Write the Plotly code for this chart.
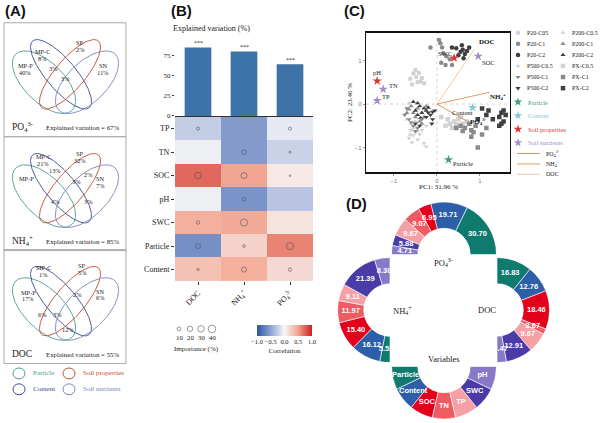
import numpy as np
import plotly.graph_objects as go

W, H = 600, 423
SERIF = "Liberation Serif"
SANS = "Liberation Sans"

# ---------------- DATA ----------------
# Panel A: Venn partitions (variance partitioning)
venn_targets = ["PO<sub>4</sub><sup>3-</sup>", "NH<sub>4</sub><sup>+</sup>", "DOC"]
venn_explained = [67, 85, 55]
venn_sets = ["MP-P", "MP-C", "SP", "SN"]
po4_parts = ["8%", "2%", "40%", "11%", "3%", "3%"]
nh4_parts = ["21%", "32%", "13%", "2%", "7%", "3%", "4%", "3%"]
doc_parts = ["1%", "5%", "17%", "2%", "6%", "6%", "3%", "12%"]
venn_legend = ["Particle", "Soil properties", "Content", "Soil nutrients"]

# Panel B
targets = ["DOC", "NH<sub>4</sub><sup>+</sup>", "PO<sub>4</sub><sup>3-</sup>"]
explained_var = [85, 80, 64]
heat_rows = ["TP", "TN", "SOC", "pH", "SWC", "Particle", "Content"]
corr = [
    [-0.25, -0.55, -0.08],
    [-0.05, -0.55, -0.22],
    [0.72, 0.48, 0.08],
    [-0.05, -0.60, -0.30],
    [0.42, 0.45, 0.12],
    [-0.62, 0.22, 0.62],
    [0.32, 0.42, 0.18],
]
importance = [
    [7, 0, 7],
    [0, 15, 3],
    [30, 25, 2],
    [0, 10, 0],
    [8, 35, 0],
    [17, 5, 35],
    [4, 18, 8],
]
importance_legend = [10, 20, 30, 40]

# Panel C: PCA scores
p20_c05_x = [-0.62, -0.55, -0.48, -0.42, -0.35, -0.58, -0.45, -0.30, -0.50, -0.38]
p20_c05_y = [0.58, 0.70, 0.62, 0.72, 0.60, 0.45, 0.50, 0.48, 0.78, 0.52]
p20_c1_x = [0.05, 0.08, -0.15, 0.12, 0.22, 0.10, 0.20, 0.35, 0.30, 0.15]
p20_c1_y = [1.47, 1.40, 1.30, 1.30, 1.10, 0.95, 0.90, 0.90, 1.03, 1.17]
p20_c2_x = [0.45, 0.55, 0.60, 0.65, 0.70, 0.50, 0.62, 0.35, 0.75, 0.58]
p20_c2_y = [1.28, 1.20, 1.25, 1.15, 1.22, 1.12, 1.05, 1.30, 1.30, 1.35]
p200_c05_x = [-0.65, -0.60, -0.55, -0.70, -0.50, -0.45, -0.62]
p200_c05_y = [0.02, -0.45, -0.55, -0.35, -0.40, -0.62, -0.70]
p200_c1_x = [-0.60, -0.55, -0.65, -0.50, -0.40, -0.30, -0.45, -0.70, -0.35, -0.25]
p200_c1_y = [-0.05, -0.20, -0.12, -0.30, -0.40, -0.30, -0.10, -0.20, -0.45, -0.05]
p200_c2_x = [-0.45, -0.40, -0.30, -0.50, -0.35, -0.25, -0.45, -0.20, -0.55, -0.38]
p200_c2_y = [0.02, -0.05, -0.10, -0.15, -0.20, -0.15, -0.25, -0.08, 0.05, -0.32]
p500_c05_x = [-0.60, -0.55, -0.50, -0.45, -0.40, -0.35, -0.65, -0.30, -0.25, -0.58, -0.25]
p500_c05_y = [-0.60, -0.72, -0.65, -0.82, -0.70, -0.60, -0.78, -0.90, -0.50, -0.88, -0.98]
p500_c1_x = [-0.70, -0.65, -0.60, -0.55, -0.45, -0.35, -0.75, -0.50]
p500_c1_y = [-0.10, -0.35, -0.42, -0.50, -0.55, -0.35, -0.25, -0.62]
p500_c2_x = [-0.20, -0.15, -0.10, -0.25, -0.10, -0.50, -0.40, -0.12, -0.05]
p500_c2_y = [-0.20, -0.25, -0.18, -0.30, -0.35, -0.45, -0.50, -0.45, -0.15]
px_c05_x = [0.10, 0.25, 0.30, 0.40, 0.50, 0.45, 0.55, 0.35, 0.20, 0.60, 0.70]
px_c05_y = [-0.30, -0.35, -0.45, -0.40, -0.35, -0.47, -0.30, -0.55, -0.50, -0.45, -0.40]
px_c1_x = [0.55, 0.65, 0.60, 0.85, 0.80, 1.05, 1.15, 0.95, 0.90, 0.75, 0.45, 0.80]
px_c1_y = [-0.50, -0.55, -0.62, -0.65, -0.75, -0.70, -0.55, -1.00, -0.50, -0.45, -0.55, -0.60]
px_c2_x = [1.05, 1.15, 1.30, 1.45, 1.50, 1.55, 1.50, 1.55, 1.60, 1.20, 0.95, 1.45]
px_c2_y = [-0.10, -0.25, -0.35, -0.30, -0.45, -0.40, -0.20, -0.15, -0.25, -0.15, -0.35, -0.50]

# PCA loadings
var_star_names = ["pH", "TN", "TP", "SWC", "SOC", "Content", "Particle"]
var_star_x = [-1.39, -1.25, -1.39, 0.40, 0.96, 0.83, 0.27]
var_star_y = [0.53, 0.34, 0.08, 1.06, 1.10, -0.08, -1.28]
var_star_group = ["prop", "nut", "nut", "prop", "nut", "content", "particle"]
resp_names = ["DOC", "NH<sub>4</sub><sup>+</sup>", "PO<sub>4</sub><sup>3-</sup>"]
resp_x = [0.88, 1.22, 0.69]
resp_y = [1.27, 0.27, -0.39]

# Panel D: relative importance (%)
var_names = ["Particle", "Content", "SOC", "TN", "TP", "SWC", "pH"]
po4_imp = [30.70, 19.71, 6.95, 9.07, 9.67, 5.88, 4.71]
doc_imp = [16.83, 12.76, 18.46, 2.67, 9.67, 12.91, 4.47]
nh4_imp = [5.52, 16.12, 15.40, 11.97, 9.11, 21.39, 8.30]
var_ring = [1, 1, 1, 1, 1, 1, 1]

# ---------------- STYLE ----------------
var_colors = ["#0e7b6e", "#2d5ea9", "#e3001b", "#ee5b63", "#f5a0a5", "#4a3ba8", "#8779c7"]
c_particle, c_content, c_prop, c_nut = "#4f9a8c", "#3c4a8e", "#c44a32", "#7a86b8"
LIGHT, MED, DARK = "#d2d2d2", "#8a8a8a", "#3f3f3f"
star_colors = {"prop": "#dd3333", "nut": "#a68bc9", "content": "#86c5dc", "particle": "#3b9f7f"}


def dx(a, b):
    return [a / W, b / W]


def dy(top, bottom):
    return [1 - bottom / H, 1 - top / H]


annotations = []
shapes = []


def ann(text, x, y, size=7, color="#222", family=SERIF, xanchor="center", angle=0, ref=("x", "y")):
    annotations.append(dict(text=text, x=x, y=y, xref=ref[0], yref=ref[1], showarrow=False,
                            font=dict(size=size, color=color, family=family),
                            xanchor=xanchor, yanchor="middle", textangle=angle))


fig = go.Figure()

# ---------------- PANEL A ----------------
box_tops = [23, 138, 252]
box_left, box_w, box_h = 4, 122, 115
ell_params = [  # local cx, cy, a, b, angle ; colour
    (40, 60, 40, 20, 45, c_particle),
    (57, 52, 44, 15, 50, c_content),
    (66, 52, 44, 15, -50, c_prop),
    (83, 60, 40, 20, -45, c_nut),
]
t = np.linspace(0, 2 * np.pi, 160)
for bi, top in enumerate(box_tops):
    shapes.append(dict(type="rect", xref="x", yref="y", x0=box_left, x1=box_left + box_w,
                       y0=top, y1=top + box_h, line=dict(color="#aaaaaa", width=1)))
    for (cx, cy, a, b, ang, col) in ell_params:
        c, s = np.cos(np.radians(ang)), np.sin(np.radians(ang))
        ex = box_left + cx + a * np.cos(t) * c - b * np.sin(t) * s
        ey = top + cy + a * np.cos(t) * s + b * np.sin(t) * c
        fig.add_trace(go.Scatter(x=ex, y=ey, mode="lines", line=dict(color=col, width=0.9),
                                 xaxis="x", yaxis="y", hoverinfo="skip", showlegend=False))
    ann(venn_targets[bi], 10, top + 105, size=9.5, xanchor="left")
    ann("Explained variation = %d%%" % venn_explained[bi], 82, top + 106, size=6.8)

# set-name positions per box (layout)
set_pos = [
    [(25, 66), (42, 52), (80, 43), (103, 66)],
    [(26, 180), (43, 158), (80, 155), (100, 180)],
    [(28, 295), (43, 270), (82, 268), (100, 294)],
]
part_pos = [
    [(42, 59), (80, 50), (25, 73), (103, 73), (53, 69), (65, 79)],
    [(43, 165), (80, 162), (55, 172), (88, 176), (100, 187), (76, 183), (55, 203), (88, 203)],
    [(43, 277), (82, 275), (28, 301), (77, 297), (100, 300), (42, 317), (57, 317), (68, 333)],
]
all_parts = [po4_parts, nh4_parts, doc_parts]
for bi in range(3):
    for name, (x, y) in zip(venn_sets, set_pos[bi]):
        ann(name, x, y, size=6.3)
    for lab, (x, y) in zip(all_parts[bi], part_pos[bi]):
        ann(lab, x, y, size=6.3)

leg_cols = [c_particle, c_prop, c_content, c_nut]
leg_xy = [(19, 377), (69, 377), (19, 393), (69, 393)]
for lab, col, (x, y) in zip(venn_legend, leg_cols, leg_xy):
    shapes.append(dict(type="circle", xref="x", yref="y", x0=x - 6, x1=x + 6, y0=y - 5.5, y1=y + 5.5,
                       line=dict(color=col, width=1)))
    ann(lab, x + 12, y, size=7, color=col, xanchor="left")

# ---------------- PANEL B ----------------
xi = list(range(len(targets)))
fig.add_trace(go.Bar(x=xi, y=explained_var, width=0.58, marker=dict(color="#3d73a6", line=dict(width=0)),
                     xaxis="x2", yaxis="y2", showlegend=False))
for i, v in zip(xi, explained_var):
    annotations.append(dict(text="***", x=i, y=v, xref="x2", yref="y2", yshift=4, showarrow=False,
                            font=dict(size=6, family=SERIF, color="#222")))

ri = list(range(len(heat_rows)))
cscale = [[0, "#2a56a4"], [0.25, "#8ea2d2"], [0.5, "#f7f7f7"], [0.75, "#f2a28e"], [1, "#cc1f1f"]]
fig.add_trace(go.Heatmap(z=corr, x=xi, y=ri, colorscale=cscale, zmin=-1, zmax=1, xaxis="x3", yaxis="y3",
                         colorbar=dict(orientation="h", x=284.5 / W, xanchor="center", y=1 - 328 / H,
                                       yanchor="top", len=55 / W, lenmode="fraction", thickness=11,
                                       thicknessmode="pixels", outlinewidth=0, ticks="", tickangle=0,
                                       tickvals=[-1, -0.5, 0, 0.5, 1],
                                       ticktext=["−1.0", "−0.5", "0.0", "0.5", "1.0"],
                                       tickfont=dict(size=6.5, family=SERIF, color="#222"),
                                       title=dict(text="Correlation", side="bottom",
                                                  font=dict(size=7, family=SERIF, color="#222")),
                                       xpad=0, ypad=0)))


def imp_size(v):
    return 1.2 * np.sqrt(v)


cx_, cy_, cs_ = [], [], []
for r in ri:
    for c in xi:
        if importance[r][c] > 0:
            cx_.append(c)
            cy_.append(r)
            cs_.append(imp_size(importance[r][c]))
fig.add_trace(go.Scatter(x=cx_, y=cy_, mode="markers", xaxis="x3", yaxis="y3", showlegend=False,
                         marker=dict(symbol="circle-open", size=cs_, color="#4a4a5a", line=dict(width=0.8))))

# importance size legend
leg_imp_x = [179 + 11 * i for i in range(len(importance_legend))]
fig.add_trace(go.Scatter(x=leg_imp_x, y=[332] * 4, mode="markers", xaxis="x", yaxis="y", showlegend=False,
                         marker=dict(symbol="circle-open", size=[imp_size(v) for v in importance_legend],
                                     color="#4a4a5a", line=dict(width=0.8))))
for x, v in zip(leg_imp_x, importance_legend):
    ann(str(v), x, 340.5, size=6.8)
ann("Importance (%)", 196, 352, size=7)
ann("Explained variation (%)", 211, 29, size=8)

# ---------------- PANEL C ----------------
groups = [
    (p20_c05_x, p20_c05_y, "circle", LIGHT), (p20_c1_x, p20_c1_y, "circle", MED),
    (p20_c2_x, p20_c2_y, "circle", DARK), (p200_c05_x, p200_c05_y, "triangle-up", LIGHT),
    (p200_c1_x, p200_c1_y, "triangle-up", MED), (p200_c2_x, p200_c2_y, "triangle-up", DARK),
    (p500_c05_x, p500_c05_y, "triangle-down", LIGHT), (p500_c1_x, p500_c1_y, "triangle-down", MED),
    (p500_c2_x, p500_c2_y, "triangle-down", DARK), (px_c05_x, px_c05_y, "square", LIGHT),
    (px_c1_x, px_c1_y, "square", MED), (px_c2_x, px_c2_y, "square", DARK),
]
for gx, gy, sym, col in groups:
    fig.add_trace(go.Scatter(x=gx, y=gy, mode="markers", xaxis="x4", yaxis="y4", showlegend=False,
                             marker=dict(symbol=sym, size=4.5, color=col, line=dict(width=0))))

arrow_cols = ["#efcaa6", "#e09c62", "#d7985f"]
for nm, ex, ey, col in zip(resp_names, resp_x, resp_y, arrow_cols):
    fig.add_trace(go.Scatter(x=[0, ex], y=[0, ey], mode="lines", line=dict(color=col, width=1),
                             xaxis="x4", yaxis="y4", showlegend=False))
annotations.append(dict(text="<b>DOC</b>", x=resp_x[0], y=resp_y[0], xref="x4", yref="y4", xshift=12, yshift=7,
                        showarrow=False, font=dict(size=7, family=SERIF, color="#111")))
annotations.append(dict(text="<b>NH<sub>4</sub><sup>+</sup></b>", x=resp_x[1], y=resp_y[1], xref="x4", yref="y4",
                        xshift=9, yshift=-4, showarrow=False, font=dict(size=7, family=SERIF, color="#111")))
annotations.append(dict(text="<b>PO<sub>4</sub><sup>3-</sup></b>", x=resp_x[2], y=resp_y[2], xref="x4", yref="y4",
                        xshift=12, yshift=0, showarrow=False, font=dict(size=7, family=SERIF, color="#111")))

fig.add_trace(go.Scatter(x=var_star_x, y=var_star_y, mode="markers", xaxis="x4", yaxis="y4", showlegend=False,
                         marker=dict(symbol="star", size=7, color=[star_colors[g] for g in var_star_group],
                                     line=dict(width=0))))
star_shift = {"pH": (0, 8), "TN": (10, 4), "TP": (9, 4), "SWC": (-9, 4), "SOC": (10, -6),
              "Content": (-10, -5), "Particle": (14, -4)}
for nm, sx, sy in zip(var_star_names, var_star_x, var_star_y):
    xs, ys = star_shift[nm]
    annotations.append(dict(text=nm, x=sx, y=sy, xref="x4", yref="y4", xshift=xs, yshift=ys, showarrow=False,
                            font=dict(size=6.5, family=SERIF, color="#222")))

shapes.append(dict(type="line", xref="x4", yref="y4 domain", x0=0, x1=0, y0=0, y1=1,
                   line=dict(color="#c8c8c8", width=0.8, dash="dot"), layer="below"))
shapes.append(dict(type="line", xref="x4 domain", yref="y4", x0=0, x1=1, y0=0, y1=0,
                   line=dict(color="#c8c8c8", width=0.8, dash="dot"), layer="below"))
ann("PC1: 31.96 %", 438, 189, size=7)
ann("PC2: 23.46 %", 350, 104, size=7, angle=-90)

# PCA legend (manual, compact)
leg_c1 = ["P20-C05", "P20-C1", "P20-C2", "P500-C0.5", "P500-C1", "P500-C2"]
leg_c2 = ["P200-C0.5", "P200-C1", "P200-C2", "PX-C0.5", "PX-C1", "PX-C2"]
sym_c1 = ["circle"] * 3 + ["triangle-down"] * 3
sym_c2 = ["triangle-up"] * 3 + ["square"] * 3
cols6 = [LIGHT, MED, DARK] * 2
rows_y = [33 + 11.2 * i for i in range(6)]
fig.add_trace(go.Scatter(x=[518] * 6 + [563] * 6, y=rows_y * 2, mode="markers", xaxis="x", yaxis="y",
                         showlegend=False, marker=dict(symbol=sym_c1 + sym_c2, size=4.5, color=cols6 * 2)))
for lab, y in zip(leg_c1, rows_y):
    ann(lab, 525, y, size=6, xanchor="left")
for lab, y in zip(leg_c2, rows_y):
    ann(lab, 570, y, size=6, xanchor="left")
star_leg = ["Particle", "Content", "Soil properties", "Soil nutrients"]
star_leg_cols = [star_colors["particle"], star_colors["content"], star_colors["prop"], star_colors["nut"]]
star_leg_y = [103 + 13.7 * i for i in range(4)]
fig.add_trace(go.Scatter(x=[518] * 4, y=star_leg_y, mode="markers", xaxis="x", yaxis="y", showlegend=False,
                         marker=dict(symbol="star", size=6.5, color=star_leg_cols)))
for lab, y, col in zip(star_leg, star_leg_y, star_leg_cols):
    ann(lab, 526, y, size=6.5, color=col, xanchor="left")
line_leg_y = [155, 165.5, 176]
line_leg_cols = [arrow_cols[2], arrow_cols[1], arrow_cols[0]]
for lab, y, col in zip(resp_names[::-1], line_leg_y, line_leg_cols):
    shapes.append(dict(type="line", xref="x", yref="y", x0=517, x1=540, y0=y, y1=y, line=dict(color=col, width=1)))
    ann(lab, 544, y, size=6, xanchor="left")

# ---------------- PANEL D ----------------
rings = [  # values, start angle, direction, labels, centre, subplot
    (po4_imp, 0, 1, ["%.2f" % v for v in po4_imp], (444, 257), "polar"),
    (doc_imp, 90, -1, ["%.2f" % v for v in doc_imp], (497, 313), "polar2"),
    (nh4_imp, 270, -1, ["%.2f" % v for v in nh4_imp], (390, 313), "polar3"),
    (var_ring, 180, 1, var_names, (444, 370), "polar4"),
]
R = 53
polar_layouts = {}
for vals, start, sgn, labels, (pcx, pcy), sp in rings:
    scale = 180.0 / sum(vals)
    th, wd, cum = [], [], 0.0
    for v in vals:
        a0 = start + sgn * cum * scale
        a1 = start + sgn * (cum + v) * scale
        th.append((a0 + a1) / 2)
        wd.append(v * scale)
        cum += v
    fig.add_trace(go.Barpolar(r=[1] * len(vals), theta=th, width=wd, subplot=sp, showlegend=False,
                              marker=dict(color=var_colors, line=dict(color="white", width=0.6))))
    fig.add_trace(go.Scatterpolar(r=[0.5] * len(vals), theta=th, mode="text", subplot=sp, showlegend=False,
                                  text=["<b>%s</b>" % l for l in labels],
                                  textfont=dict(color="white", size=7.5, family=SANS)))
    polar_layouts[sp] = dict(domain=dict(x=dx(pcx - R, pcx + R), y=dy(pcy - R, pcy + R)), hole=0.5,
                             bgcolor="rgba(0,0,0,0)",
                             radialaxis=dict(range=[0, 1], visible=False, showgrid=False),
                             angularaxis=dict(visible=False, showgrid=False, rotation=0,
                                              direction="counterclockwise"))

ann("PO<sub>4</sub><sup>3-</sup>", 443, 265, size=8.5)
ann("NH<sub>4</sub><sup>+</sup>", 402, 313, size=8.5)
ann("DOC", 487, 313, size=8.5)
ann("Variables", 444, 362, size=8.5)

# panel letters
for lab, x, y in [("(A)", 3, 11), ("(B)", 169, 11), ("(C)", 342, 11), ("(D)", 344, 205)]:
    ann("<b>%s</b>" % lab, x, y, size=15, family=SANS, color="#111", xanchor="left")

tickfont_b = dict(size=7, family=SERIF, color="#222")
fig.update_layout(
    width=W, height=H, margin=dict(l=0, r=0, t=0, b=0), paper_bgcolor="white",
    plot_bgcolor="rgba(0,0,0,0)", showlegend=False, hovermode=False,
    xaxis=dict(domain=[0, 1], range=[0, W], visible=False, fixedrange=True),
    yaxis=dict(domain=[0, 1], range=[H, 0], visible=False, fixedrange=True),
    xaxis2=dict(domain=dx(175, 313), range=[-0.5, 2.5], anchor="y2", showline=True, linecolor="#333",
                linewidth=1, showticklabels=False, ticks="", showgrid=False, zeroline=False),
    yaxis2=dict(domain=dy(40, 117), range=[0, 94.7], anchor="x2", tickvals=[0, 25, 50, 75], ticks="outside",
                ticklen=2, tickcolor="#333", tickfont=tickfont_b, showgrid=False, zeroline=False, showline=False),
    xaxis3=dict(domain=dx(175, 313), range=[-0.5, 2.5], anchor="y3", tickvals=xi, ticktext=targets,
                tickangle=-45, ticks="outside", ticklen=3, tickcolor="#333",
                tickfont=dict(size=8, family=SERIF, color="#222"), showgrid=False, zeroline=False),
    yaxis3=dict(domain=dy(118, 284), range=[6.5, -0.5], anchor="x3", tickvals=ri, ticktext=heat_rows,
                ticks="outside", ticklen=3, tickcolor="#333", tickfont=dict(size=8, family=SERIF, color="#222"),
                showgrid=False, zeroline=False),
    xaxis4=dict(domain=dx(366, 510), range=[-1.65, 1.70], anchor="y4", tickvals=[-1, 0, 1], showline=True,
                mirror=True, linecolor="#111", linewidth=1.3, ticks="outside", ticklen=2, tickcolor="#999",
                tickfont=dict(size=6, family=SANS, color="#777"), showgrid=False, zeroline=False),
    yaxis4=dict(domain=dy(33, 174), range=[-1.57, 1.64], anchor="x4", tickvals=[-1, 0, 1], showline=True,
                mirror=True, linecolor="#111", linewidth=1.3, ticks="outside", ticklen=2, tickcolor="#999",
                tickfont=dict(size=6, family=SANS, color="#777"), showgrid=False, zeroline=False),
    annotations=annotations, shapes=shapes,
    **polar_layouts,
)

fig.write_html("out.html", config={"displayModeBar": False, "staticPlot": True},
               post_script="document.body.style.margin='0';document.body.style.overflow='hidden';")
